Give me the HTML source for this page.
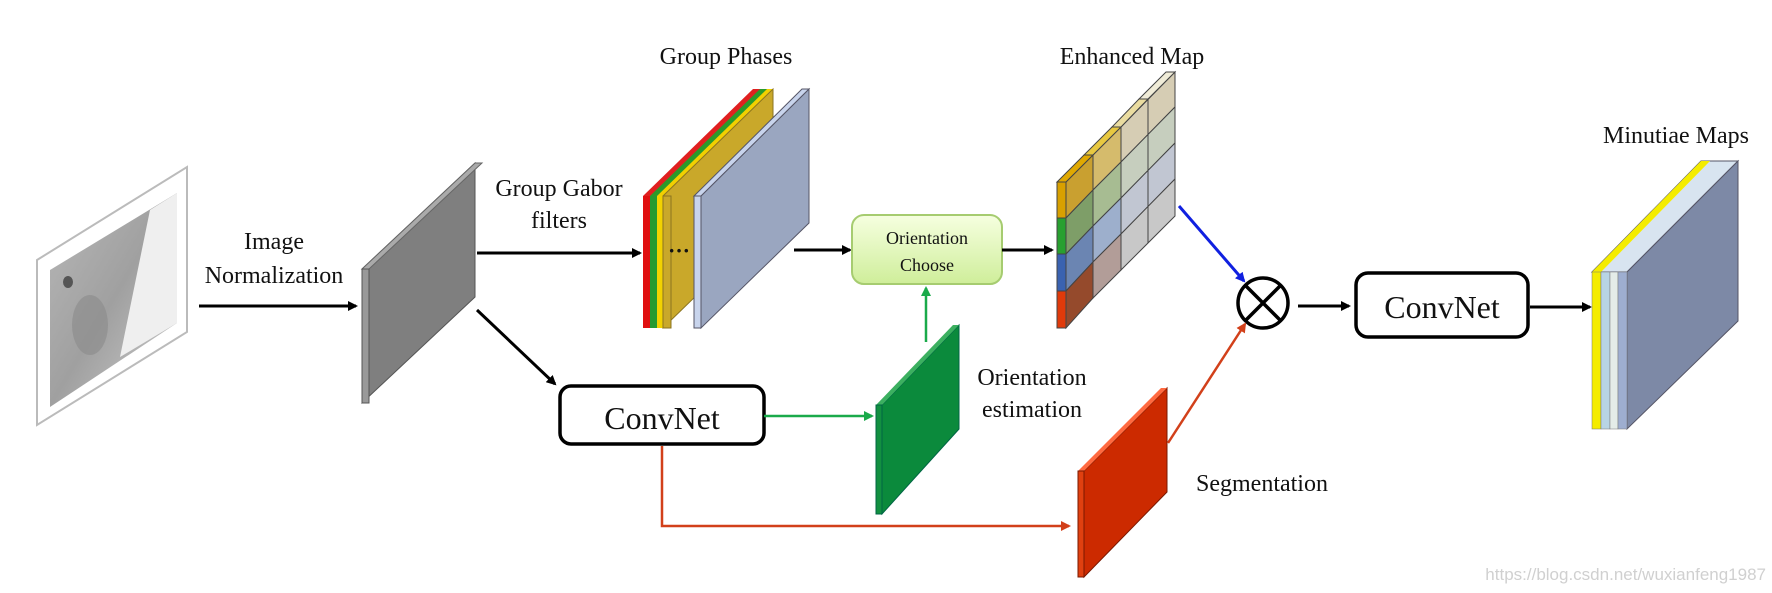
<!DOCTYPE html>
<html><head><meta charset="utf-8"><style>
html,body{margin:0;padding:0;background:#fff;}
svg{display:block;}
text{font-family:"Liberation Serif",serif;fill:#111;}
</style></head><body>
<svg width="1772" height="593" viewBox="0 0 1772 593" xmlns="http://www.w3.org/2000/svg">
<defs>
<marker id="ab" markerWidth="10" markerHeight="10" refX="8" refY="5" orient="auto" markerUnits="userSpaceOnUse"><path d="M0,0 L10,5 L0,10 z" fill="#000"/></marker>
<marker id="ag" markerWidth="10" markerHeight="10" refX="8" refY="5" orient="auto" markerUnits="userSpaceOnUse"><path d="M0,0 L10,5 L0,10 z" fill="#1aaa4a"/></marker>
<marker id="ar" markerWidth="10" markerHeight="10" refX="8" refY="5" orient="auto" markerUnits="userSpaceOnUse"><path d="M0,0 L10,5 L0,10 z" fill="#d2401a"/></marker>
<marker id="abl" markerWidth="10" markerHeight="10" refX="8" refY="5" orient="auto" markerUnits="userSpaceOnUse"><path d="M0,0 L10,5 L0,10 z" fill="#1020e0"/></marker>
<linearGradient id="gg" x1="0" y1="0" x2="0" y2="1"><stop offset="0" stop-color="#f6ffe0"/><stop offset="1" stop-color="#cfee9a"/></linearGradient>
<linearGradient id="fp" x1="0" y1="0" x2="1" y2="1"><stop offset="0" stop-color="#b8b8b8"/><stop offset="0.5" stop-color="#a0a0a0"/><stop offset="1" stop-color="#cfcfcf"/></linearGradient>
</defs>

<!-- fingerprint image -->
<polygon points="37,260 187,167 187,332 37,425" fill="#fff" stroke="#bbb" stroke-width="2"/>
<polygon points="50,270 177,193 177,323 50,407" fill="url(#fp)"/>
<polygon points="150,210 177,193 177,323 120,357" fill="#efefef"/>
<ellipse cx="68" cy="282" rx="5" ry="6" fill="#555"/>
<ellipse cx="90" cy="325" rx="18" ry="30" fill="#8a8a8a" opacity="0.6"/>

<!-- Image Normalization -->
<text x="274" y="249" font-size="24" text-anchor="middle">Image</text>
<text x="274" y="283" font-size="24" text-anchor="middle">Normalization</text>
<line x1="199" y1="306" x2="356" y2="306" stroke="#000" stroke-width="3" marker-end="url(#ab)"/>

<!-- gray plane -->
<polygon points="362,269 475,163 475,297 362,403" fill="#7f7f7f" stroke="#555" stroke-width="1"/>
<polygon points="362,269 369,269 482,163 475,163" fill="#aaa" stroke="#666" stroke-width="1"/>
<polygon points="362,269 369,269 369,403 362,403" fill="#999" stroke="#555" stroke-width="1"/>

<!-- Group Gabor filters -->
<text x="559" y="196" font-size="24" text-anchor="middle">Group  Gabor</text>
<text x="559" y="228" font-size="24" text-anchor="middle">filters</text>
<line x1="477" y1="253" x2="640" y2="253" stroke="#000" stroke-width="3" marker-end="url(#ab)"/>

<!-- Group phases stack -->
<text x="726" y="64" font-size="24" text-anchor="middle">Group Phases</text>
<polygon points="643,196 753,89 773,89 663,196" fill="#e02020"/>
<polygon points="650,196 760,89 773,89 663,196" fill="#2a9a2a"/>
<polygon points="657,196 767,89 773,89 663,196" fill="#f2d000"/>
<polygon points="663,196 773,89 773,221 663,328" fill="#c9a82a" stroke="#8a7320" stroke-width="1"/>
<rect x="643" y="196" width="7" height="132" fill="#e01010"/>
<rect x="650" y="196" width="7" height="132" fill="#259a30"/>
<rect x="657" y="196" width="6" height="132" fill="#f2d200"/>
<rect x="663" y="196" width="8" height="132" fill="#c9a82a" stroke="#8a7320" stroke-width="1"/>
<text x="679" y="258" font-size="22" text-anchor="middle" font-weight="bold">···</text>
<polygon points="701,196 809,89 809,223 701,328" fill="#9aa6c0" stroke="#556" stroke-width="1"/>
<polygon points="694,196 802,89 809,89 701,196" fill="#c8d4ec" stroke="#556" stroke-width="1"/>
<rect x="694" y="196" width="7" height="132" fill="#c8d4ec" stroke="#556" stroke-width="1"/>

<line x1="794" y1="250" x2="850" y2="250" stroke="#000" stroke-width="3" marker-end="url(#ab)"/>

<!-- Orientation Choose -->
<rect x="852" y="215" width="150" height="69" rx="12" fill="url(#gg)" stroke="#a6cc70" stroke-width="2"/>
<text x="927" y="244" font-size="18" text-anchor="middle">Orientation</text>
<text x="927" y="271" font-size="18" text-anchor="middle">Choose</text>
<line x1="1002" y1="250" x2="1052" y2="250" stroke="#000" stroke-width="3" marker-end="url(#ab)"/>

<!-- Enhanced map -->
<text x="1132" y="64" font-size="24" text-anchor="middle">Enhanced Map</text>
<g stroke="#444" stroke-width="1">
<!-- column 1 -->
<polygon points="1066,182 1093,155 1093,190 1066,218" fill="#c9a030"/>
<polygon points="1066,218 1093,190 1093,226 1066,254" fill="#7e9e68"/>
<polygon points="1066,254 1093,226 1093,262 1066,291" fill="#6b85b2"/>
<polygon points="1066,291 1093,262 1093,298 1066,328" fill="#954a2c"/>
<!-- column 2 -->
<polygon points="1093,155 1121,127 1121,162 1093,190" fill="#d5bb6c"/>
<polygon points="1093,190 1121,162 1121,198 1093,226" fill="#a7bc92"/>
<polygon points="1093,226 1121,198 1121,234 1093,262" fill="#9dafcc"/>
<polygon points="1093,262 1121,234 1121,270 1093,298" fill="#b29d98"/>
<!-- column 3 -->
<polygon points="1121,127 1175,72 1175,107 1121,162" fill="#d6cdb4"/>
<polygon points="1121,162 1175,107 1175,143 1121,198" fill="#c6cebe"/>
<polygon points="1121,198 1175,143 1175,179 1121,234" fill="#c1c6d2"/>
<polygon points="1121,234 1175,179 1175,216 1121,270" fill="#c8c8c8"/>
<line x1="1148" y1="99" x2="1148" y2="243"/>
<!-- top edge -->
<polygon points="1057,182 1066,182 1093,155 1084,155" fill="#e0a800"/>
<polygon points="1084,155 1093,155 1121,127 1112,127" fill="#e8c840"/>
<polygon points="1112,127 1121,127 1148,99 1139,99" fill="#eadca0"/>
<polygon points="1139,99 1148,99 1175,72 1166,72" fill="#f0ecd8"/>
<!-- front strip -->
<rect x="1057" y="182" width="9" height="36" fill="#d8a000"/>
<rect x="1057" y="218" width="9" height="36" fill="#28a030"/>
<rect x="1057" y="254" width="9" height="37" fill="#3a62b0"/>
<rect x="1057" y="291" width="9" height="37" fill="#e03a0a"/>
</g>

<!-- blue arrow -->
<line x1="1179" y1="206" x2="1244" y2="281" stroke="#1020e0" stroke-width="3" marker-end="url(#abl)"/>

<!-- circle x -->
<circle cx="1263" cy="303" r="25" fill="#fff" stroke="#000" stroke-width="3.5"/>
<line x1="1245" y1="285" x2="1281" y2="321" stroke="#000" stroke-width="3.5"/>
<line x1="1281" y1="285" x2="1245" y2="321" stroke="#000" stroke-width="3.5"/>

<line x1="1298" y1="306" x2="1349" y2="306" stroke="#000" stroke-width="3" marker-end="url(#ab)"/>

<!-- ConvNet 2 -->
<rect x="1356" y="273" width="172" height="64" rx="12" fill="#fff" stroke="#000" stroke-width="3.5"/>
<text x="1442" y="318" font-size="32" text-anchor="middle">ConvNet</text>
<line x1="1530" y1="307" x2="1590" y2="307" stroke="#000" stroke-width="3" marker-end="url(#ab)"/>

<!-- Minutiae maps -->
<text x="1676" y="143" font-size="24" text-anchor="middle">Minutiae Maps</text>
<polygon points="1592,272 1701,161 1738,161 1627,272" fill="#d8e4f0" stroke="#556" stroke-width="1"/>
<polygon points="1592,272 1701,161 1710,161 1601,272" fill="#f4ec00"/>
<polygon points="1627,272 1738,161 1738,321 1627,429" fill="#7d89a6" stroke="#556" stroke-width="1"/>
<rect x="1592" y="272" width="9" height="157" fill="#f4ec00" stroke="#777" stroke-width="0.5"/>
<rect x="1601" y="272" width="9" height="157" fill="#b8d4e4" stroke="#777" stroke-width="0.5"/>
<rect x="1610" y="272" width="8" height="157" fill="#e4ece8" stroke="#777" stroke-width="0.5"/>
<rect x="1618" y="272" width="9" height="157" fill="#9eaed0" stroke="#777" stroke-width="0.5"/>

<!-- ConvNet 1 -->
<line x1="477" y1="310" x2="555" y2="384" stroke="#000" stroke-width="3" marker-end="url(#ab)"/>
<rect x="560" y="386" width="204" height="58" rx="11" fill="#fff" stroke="#000" stroke-width="3.5"/>
<text x="662" y="429" font-size="32" text-anchor="middle">ConvNet</text>
<line x1="764" y1="416" x2="872" y2="416" stroke="#1aaa4a" stroke-width="2.5" marker-end="url(#ag)"/>
<polyline points="662,446 662,526 1069,526" fill="none" stroke="#d2401a" stroke-width="2.5" marker-end="url(#ar)"/>

<!-- Orientation estimation plane -->
<polygon points="882,405 959,325 959,429 882,514" fill="#0b8a3c" stroke="#064" stroke-width="1"/>
<polygon points="876,405 953,325 959,325 882,405" fill="#3cb060"/>
<rect x="876" y="405" width="6" height="109" fill="#129040" stroke="#064" stroke-width="1"/>
<line x1="926" y1="342" x2="926" y2="288" stroke="#1aaa4a" stroke-width="2.5" marker-end="url(#ag)"/>
<text x="1032" y="385" font-size="24" text-anchor="middle">Orientation</text>
<text x="1032" y="417" font-size="24" text-anchor="middle">estimation</text>

<!-- Segmentation plane -->
<polygon points="1084,471 1167,388 1167,492 1084,577" fill="#cc2a00" stroke="#7a1800" stroke-width="1"/>
<polygon points="1078,471 1161,388 1167,388 1084,471" fill="#ff6a40"/>
<rect x="1078" y="471" width="6" height="106" fill="#e04010" stroke="#7a1800" stroke-width="1"/>
<line x1="1168" y1="443" x2="1245" y2="324" stroke="#d2401a" stroke-width="2.5" marker-end="url(#ar)"/>
<text x="1262" y="491" font-size="24" text-anchor="middle">Segmentation</text>

<!-- watermark -->
<text x="1766" y="580" font-size="17" text-anchor="end" style="font-family:'Liberation Sans',sans-serif;fill:#d0d0d0;">https://blog.csdn.net/wuxianfeng1987</text>
</svg>
</body></html>
